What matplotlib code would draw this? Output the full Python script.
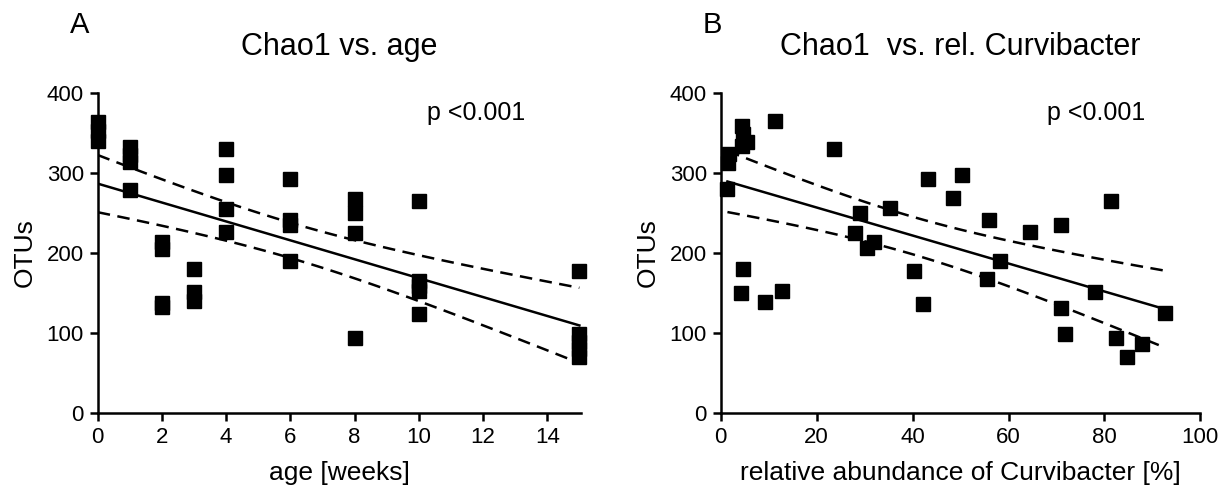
import matplotlib
matplotlib.use("Agg")
import matplotlib.pyplot as plt
import numpy as np

plt.rcParams["font.family"] = ["Liberation Sans", "DejaVu Sans"]

# =========================
# data
# =========================
age_weeks = [0, 0, 0,
             1, 1, 1, 1,
             2, 2, 2, 2,
             3, 3, 3,
             4, 4, 4, 4,
             6, 6, 6, 6,
             8, 8, 8, 8,
             10, 10, 10, 10, 10,
             15, 15, 15, 15, 15]
otus_age = [364, 352, 340,
            332, 322, 313, 278,
            213, 205, 137, 132,
            180, 151, 140,
            330, 297, 255, 226,
            292, 241, 234, 189,
            267, 250, 225, 93,
            264, 165, 158, 152, 123,
            177, 98, 88, 79, 70]

curvi_pct = [4.4, 4.7, 5.4, 4.4, 1.8, 1.6, 1.4, 11.4, 23.7, 4.6,
             4.2, 9.2, 12.8, 29.0, 28.1, 30.4, 32.0, 35.3, 40.3, 42.1,
             43.3, 50.2, 48.5, 56.0, 64.4, 70.9, 81.3, 58.3, 55.6, 78.1,
             92.7, 71.0, 71.7, 82.4, 87.9, 84.6]
otus_curvi = [358, 348, 339, 333, 323, 312, 279, 365, 330, 180,
              150, 138, 152, 249, 225, 206, 213, 256, 177, 136,
              292, 297, 268, 241, 226, 235, 265, 190, 167, 151,
              124, 131, 98, 93, 86, 69]

T_CRIT = 2.03  # 95% two-sided, df ~ 34


def fit_with_band(x, y):
    x = np.asarray(x, float)
    y = np.asarray(y, float)
    b, a = np.polyfit(x, y, 1)
    n = len(x)
    resid = y - (a + b * x)
    s = np.sqrt(np.sum(resid ** 2) / (n - 2))
    sxx = np.sum((x - x.mean()) ** 2)
    xs = np.linspace(x.min(), x.max(), 100)
    ys = a + b * xs
    hw = T_CRIT * s * np.sqrt(1.0 / n + (xs - x.mean()) ** 2 / sxx)
    return xs, ys, ys - hw, ys + hw


def draw_panel(ax, x, y, xlim, xticks, title, xlabel):
    xs, ys, lo, hi = fit_with_band(x, y)
    dash = (0, (5, 3))
    ax.plot(xs, ys, color="black", lw=1.8)
    ax.plot(xs, lo, color="black", lw=1.8, ls=dash)
    ax.plot(xs, hi, color="black", lw=1.8, ls=dash)
    ax.plot(x, y, ls="none", marker="s", ms=10, color="black", clip_on=False, zorder=3)

    ax.set_xlim(*xlim)
    ax.set_ylim(0, 400)
    ax.set_xticks(xticks)
    ax.set_yticks([0, 100, 200, 300, 400])
    for side in ["top", "right"]:
        ax.spines[side].set_visible(False)
    for side in ["left", "bottom"]:
        ax.spines[side].set_linewidth(1.8)
    ax.tick_params(direction="out", length=6, width=1.8, labelsize=16, pad=4)

    ax.text(0.5, 1.118, title, transform=ax.transAxes, ha="center", va="baseline", fontsize=22)
    ax.text(0.783, 0.936, "p <0.001", transform=ax.transAxes, ha="center", va="center", fontsize=18)
    ax.set_xlabel(xlabel, fontsize=19, labelpad=10)
    ax.set_ylabel("OTUs", fontsize=19, labelpad=7)
    return ax


fig = plt.figure(figsize=(12.28, 4.9), dpi=100)
axA = fig.add_axes([0.0796, 0.1578, 0.3935, 0.6530])
axB = fig.add_axes([0.5869, 0.1578, 0.3906, 0.6530])

draw_panel(axA, age_weeks, otus_age, (0, 15.05), [0, 2, 4, 6, 8, 10, 12, 14],
           "Chao1 vs. age", "age [weeks]")
draw_panel(axB, curvi_pct, otus_curvi, (0, 100), [0, 20, 40, 60, 80, 100],
           "Chao1  vs. rel. Curvibacter", "relative abundance of Curvibacter [%]")

fig.text(70 / 1228, 1 - 33 / 490, "A", ha="left", va="baseline", fontsize=21)
fig.text(703 / 1228, 1 - 33 / 490, "B", ha="left", va="baseline", fontsize=21)

fig.savefig("out.png", dpi=100)
